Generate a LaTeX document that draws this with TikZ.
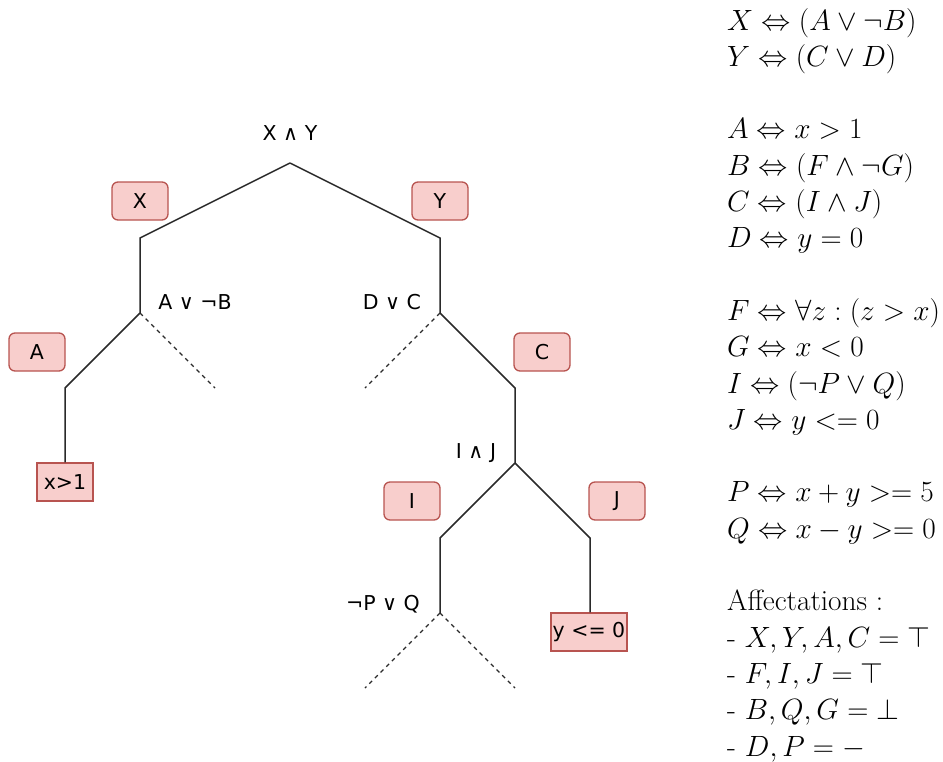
\RequirePackage{fix-cm}
\documentclass[tikz,border=0pt]{standalone}
\usepackage{fontspec}
\newfontfamily\treefont{DejaVu Sans}
\definecolor{boxfill}{HTML}{F8CECC}
\definecolor{boxline}{HTML}{B85450}
\definecolor{edge}{HTML}{2A2A2A}
\begin{document}
\begin{tikzpicture}[x=1pt,y=-1pt,
  lbl/.style={font=\treefont\fontsize{20.5}{24}\selectfont, inner sep=0pt},
  tag/.style={draw=boxline, fill=boxfill, line width=1.3pt, rounded corners=6pt,
    minimum width=56pt, minimum height=38pt, inner sep=0pt,
    font=\treefont\fontsize{20.5}{24}\selectfont},
  leaf/.style={tag, rounded corners=0pt},
  branch/.style={draw=edge, line width=1.5pt},
  open/.style={draw=edge, line width=1.3pt, dash pattern=on 4pt off 4pt},
  eq/.style={anchor=base west, inner sep=0pt, font=\fontsize{29.3}{35}\selectfont}]
\useasboundingbox (0,0) rectangle (943,761);
% tree points
\coordinate (r) at (290,163);
\coordinate (xl) at (140,238);
\coordinate (a) at (140,313);
\coordinate (yl) at (440,238);
\coordinate (d) at (440,313);
\coordinate (al) at (65,388);
\coordinate (ar) at (215,388);
\coordinate (dl) at (365,388);
\coordinate (cl) at (515,388);
\coordinate (c) at (515,463);
\coordinate (il) at (440,538);
\coordinate (p) at (440,613);
\coordinate (jl) at (590,538);
\coordinate (pl) at (365,688);
\coordinate (pr) at (515,688);
% leaves
\node[leaf] (x1) at (65,482) {x>1};
\node[leaf, minimum width=76pt] (y0) at (589,632) {y <= 0};
% edges
\draw[branch] (r) -- (xl) -- (a);
\draw[branch] (r) -- (yl) -- (d);
\draw[branch] (a) -- (al) -- (x1.north -| al);
\draw[open] (a) -- (ar);
\draw[open] (d) -- (dl);
\draw[branch] (d) -- (cl) -- (c);
\draw[branch] (c) -- (il) -- (p);
\draw[branch] (c) -- (jl) -- (y0.north -| jl);
\draw[open] (p) -- (pl);
\draw[open] (p) -- (pr);
% labels
\node[lbl] (lr) at (290,133) {X ∧ Y};
\node[lbl] (la) at (195,302) {A ∨ ¬B};
\node[lbl] (ld) at (392,302) {D ∨ C};
\node[lbl] (lc) at (476,453) {I ∧ J};
\node[lbl] (lp) at (383,604) {¬P ∨ Q};
% tags
\node[tag] (tx) at (140,201) {X};
\node[tag] (ty) at (440,201) {Y};
\node[tag] (ta) at (37,352) {A};
\node[tag] (tc) at (542,352) {C};
\node[tag] (ti) at (412,501) {I};
\node[tag] (tj) at (617,501) {J};
% equations
\node[eq] (e0) at (727,30) {$X \Leftrightarrow (A \vee \neg B)$};
\node[eq] (e1) at (727,66.3) {$Y \Leftrightarrow (C \vee D)$};
\node[eq] (e3) at (727,138.9) {$A \Leftrightarrow x > 1$};
\node[eq] (e4) at (727,175.2) {$B \Leftrightarrow (F \wedge \neg G)$};
\node[eq] (e5) at (727,211.5) {$C \Leftrightarrow (I \wedge J)$};
\node[eq] (e6) at (727,247.8) {$D \Leftrightarrow y = 0$};
\node[eq] (e8) at (727,320.4) {$F \Leftrightarrow \forall z : (z > x)$};
\node[eq] (e9) at (727,356.7) {$G \Leftrightarrow x < 0$};
\node[eq] (e10) at (727,393) {$I \Leftrightarrow (\neg P \vee Q)$};
\node[eq] (e11) at (727,429.3) {$J \Leftrightarrow y <= 0$};
\node[eq] (e13) at (727,501.9) {$P \Leftrightarrow x + y >= 5$};
\node[eq] (e14) at (727,538.2) {$Q \Leftrightarrow x - y >= 0$};
\node[eq] (e16) at (727,610.8) {Affectations :};
\node[eq] (e17) at (727,647.1) {- $X, Y, A, C = \top$};
\node[eq] (e18) at (727,683.4) {- $F, I, J = \top$};
\node[eq] (e19) at (727,719.7) {- $B, Q, G = \bot$};
\node[eq] (e20) at (727,756) {- $D, P = -$};
\end{tikzpicture}
\end{document}
